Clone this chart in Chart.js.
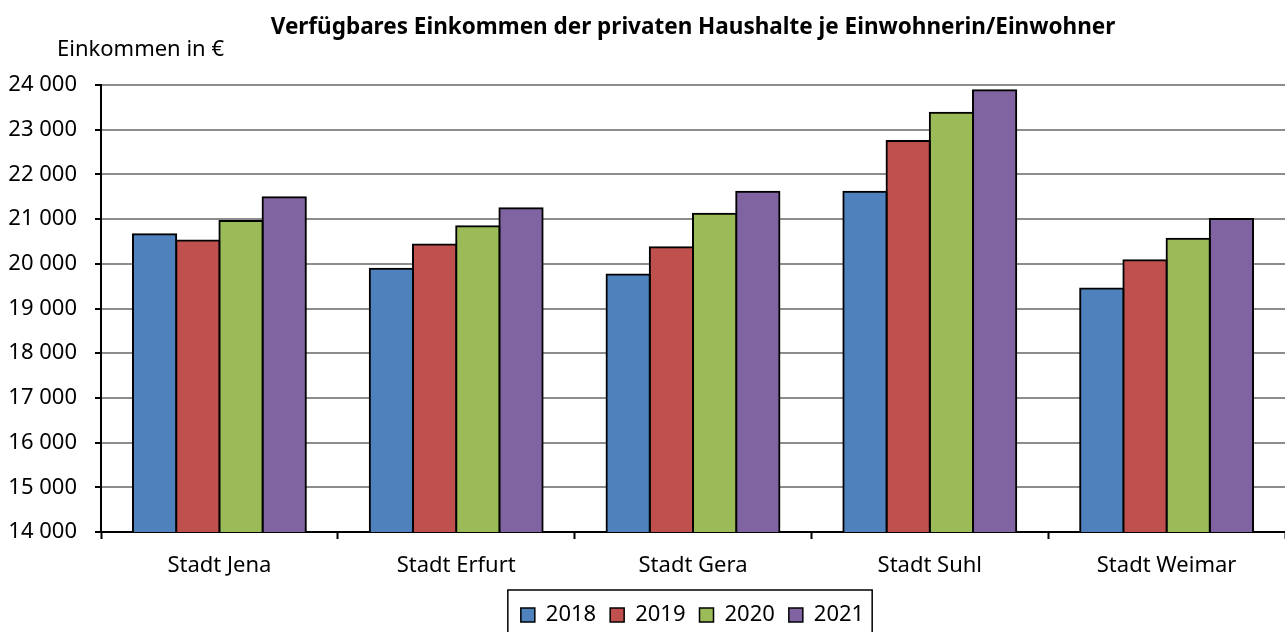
<!DOCTYPE html>
<html>
<head>
<meta charset="utf-8">
<script src="https://cdn.jsdelivr.net/npm/chart.js@4"></script>
<style>
  html, body { margin: 0; padding: 0; background: #fff; }
  #wrap { width: 1285px; height: 632px; }
</style>
</head>
<body>
<div id="wrap"><canvas id="income-chart"></canvas></div>
<script>
// Verfügbares Einkommen je Einwohner, Thüringer Städte
const cities = ["Stadt Jena", "Stadt Erfurt", "Stadt Gera", "Stadt Suhl", "Stadt Weimar"];
const years = ["2018", "2019", "2020", "2021"];
const income2018 = [20660, 19890, 19760, 21610, 19450];
const income2019 = [20520, 20430, 20370, 22750, 20080];
const income2020 = [20960, 20840, 21120, 23380, 20560];
const income2021 = [21490, 21240, 21610, 23880, 21000];
const yTicks = [14000, 15000, 16000, 17000, 18000, 19000, 20000, 21000, 22000, 23000, 24000];
const colors = ["#4F81BD", "#C0504D", "#9BBB59", "#8064A2"];

const FONT = "'Noto Sans', sans-serif";
const fmt = (v) => String(v).replace(/\B(?=(\d{3})+(?!\d))/g, " ");

// titles drawn as text, legend shifted under the plot + box around it
const extras = {
  id: "extras",
  afterLayout(chart) {
    const lg = chart.legend;
    lg.left += 50;
    lg.right += 50;
    lg.top += 4;
    lg.bottom += 4;
  },
  afterDraw(chart) {
    const ctx = chart.ctx;
    ctx.save();
    ctx.fillStyle = "#000";
    ctx.textBaseline = "alphabetic";
    ctx.textAlign = "center";
    ctx.font = "bold 22.5px " + FONT;
    ctx.fillText("Verfügbares Einkommen der privaten Haushalte je Einwohnerin/Einwohner", 693, 34);
    ctx.textAlign = "left";
    ctx.font = "22px " + FONT;
    ctx.fillText("Einkommen in €", 57, 56);
    const boxes = chart.legend.legendHitBoxes;
    if (boxes && boxes.length) {
      const x0 = Math.min(...boxes.map((b) => b.left)) - 13;
      const x1 = Math.max(...boxes.map((b) => b.left + b.width)) + 8;
      const y0 = boxes[0].top - 14;
      ctx.strokeStyle = "#000";
      ctx.lineWidth = 1.5;
      ctx.strokeRect(x0, y0, x1 - x0, 80);
    }
    ctx.restore();
  },
};

const ctx = document.getElementById("income-chart").getContext("2d");
new Chart(ctx, {
  type: "bar",
  data: {
    labels: cities,
    datasets: [income2018, income2019, income2020, income2021].map((d, i) => ({
      label: years[i],
      data: d,
      backgroundColor: colors[i],
      borderColor: "#000",
      borderWidth: 2,
      borderSkipped: false,
      inflateAmount: 1,
      categoryPercentage: 0.73,
      barPercentage: 1.0,
    })),
  },
  options: {
    responsive: true,
    maintainAspectRatio: false,
    animation: false,
    layout: { padding: { top: 85, right: 0, left: 0, bottom: 0 } },
    plugins: {
      title: { display: false },
      tooltip: { enabled: false },
      legend: {
        position: "bottom",
        labels: {
          color: "#000",
          font: { family: FONT, size: 22 },
          boxWidth: 14,
          boxHeight: 14,
          padding: 14,
          generateLabels(chart) {
            return chart.data.datasets.map((ds, i) => ({
              text: ds.label,
              fillStyle: ds.backgroundColor,
              strokeStyle: "#000",
              lineWidth: 1.5,
              datasetIndex: i,
            }));
          },
        },
      },
    },
    scales: {
      x: {
        offset: true,
        afterFit(scale) {
          scale.height = 54;
        },
        grid: {
          display: true,
          drawOnChartArea: false,
          drawTicks: true,
          tickLength: 7,
          tickColor: "#000",
          tickWidth: 2,
        },
        border: { color: "#000", width: 2 },
        ticks: { color: "#000", font: { family: FONT, size: 22 }, padding: 14 },
      },
      y: {
        min: 14000,
        max: 24000,
        afterBuildTicks(axis) {
          axis.ticks = yTicks.map((v) => ({ value: v }));
        },
        afterFit(scale) {
          scale.width = 101;
        },
        grid: {
          color: "#8c8c8c",
          lineWidth: 2,
          drawTicks: true,
          tickLength: 6,
          tickColor: "#000",
          tickWidth: 2,
        },
        border: { color: "#000", width: 2 },
        ticks: {
          color: "#000",
          font: { family: FONT, size: 22 },
          padding: 18,
          callback: (v) => fmt(v),
        },
      },
    },
  },
  plugins: [extras],
});
</script>
</body>
</html>
